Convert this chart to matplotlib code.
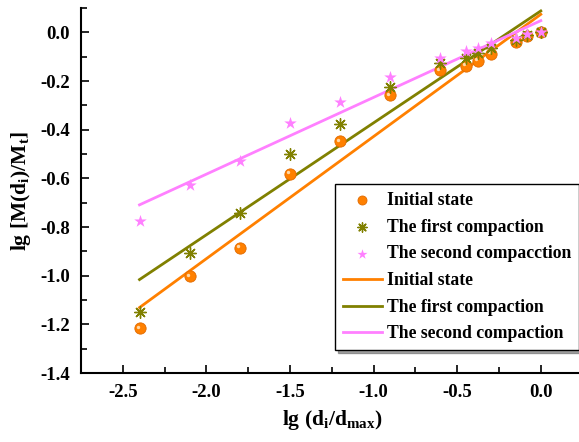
import matplotlib
matplotlib.use("Agg")
import matplotlib.pyplot as plt
import numpy as np

plt.rcParams["font.family"] = ["Liberation Serif", "DejaVu Serif"]
plt.rcParams["font.weight"] = "bold"
plt.rcParams["mathtext.fontset"] = "custom"
plt.rcParams["mathtext.rm"] = "Liberation Serif:bold"
plt.rcParams["mathtext.bf"] = "Liberation Serif:bold"
plt.rcParams["mathtext.default"] = "rm"

# lg(di/dmax) for each sieve size
x = [-2.4, -2.1, -1.8, -1.5, -1.2, -0.9, -0.6, -0.45, -0.375, -0.3, -0.15, -0.08, 0.0]

# lg[M(di)/Mt] for each state
initial = [-1.216, -1.002, -0.886, -0.582, -0.447, -0.259, -0.156, -0.137,
           -0.117, -0.088, -0.040, -0.015, 0.0]
first = [-1.151, -0.907, -0.741, -0.498, -0.375, -0.224, -0.124, -0.105,
         -0.085, -0.065, -0.030, -0.012, 0.0]
second = [-0.775, -0.629, -0.528, -0.372, -0.285, -0.185, -0.104, -0.078,
          -0.063, -0.042, -0.022, -0.008, 0.0]

# linear fits, end points
fit_x = [-2.4, 0.0]
fit_initial = [-1.131, 0.074]
fit_first = [-1.016, 0.088]
fit_second = [-0.709, 0.048]

x_ticks = [-2.5, -2.0, -1.5, -1.0, -0.5, 0.0]
y_ticks = [-1.4, -1.2, -1.0, -0.8, -0.6, -0.4, -0.2, 0.0]

c_orange = "#FF8000"
c_olive = "#808000"
c_pink = "#FF80FF"

fig = plt.figure(figsize=(5.79, 4.42), dpi=100)
ax = fig.add_axes([81 / 579, 1 - 373 / 442, 501.6 / 579, 365 / 442])

l1, = ax.plot(fit_x, fit_initial, color=c_orange, lw=2, label="Initial state")
l2, = ax.plot(fit_x, fit_first, color=c_olive, lw=2, label="The first compaction")
l3, = ax.plot(fit_x, fit_second, color=c_pink, lw=2, label="The second compaction")

s1 = ax.scatter(x, initial, s=66, color=c_orange, edgecolors="#E06A00",
                linewidths=0.6, zorder=3, label="Initial state")
# small highlight on each sphere
ax.scatter(np.array(x) - 0.012, np.array(initial) + 0.006, s=6, color="#FFD9A8",
           linewidths=0, zorder=4)
s2 = ax.scatter(x, first, s=70, marker=(8, 2, 0), color=c_olive, linewidths=1.0,
                zorder=4, label="The first compaction")
s3 = ax.scatter(x, second, s=90, marker="*", color=c_pink, linewidths=0,
                zorder=5, label="The second compacction")

ax.set_xlim(-2.75, 0.25)
ax.set_ylim(-1.4, 0.1)
ax.set_xticks(x_ticks)
ax.set_xticklabels([f"{v:.1f}" for v in x_ticks])
ax.set_xticks(np.arange(-2.75, 0.26, 0.25), minor=True)
ax.set_yticks(y_ticks)
ax.set_yticklabels([f"{v:.1f}" for v in y_ticks])
ax.set_yticks(np.arange(-1.4, 0.11, 0.1), minor=True)
ax.tick_params(which="both", direction="in", width=1.2, labelsize=13.5)
ax.tick_params(which="major", length=6, pad=8)
ax.tick_params(which="minor", length=4)
for lab in ax.get_xticklabels() + ax.get_yticklabels():
    lab.set_fontweight("bold")

for side in ["top", "right"]:
    ax.spines[side].set_visible(False)
for side in ["left", "bottom"]:
    ax.spines[side].set_linewidth(1.5)

ax.set_xlabel(r"lg (d$_\mathrm{i}$/d$_\mathrm{max}$)", fontsize=15.5,
              fontweight="bold", labelpad=5)
ax.set_ylabel(r"lg [M(d$_\mathrm{i}$)/M$_\mathrm{t}$]", fontsize=15.5,
              fontweight="bold", labelpad=5)

leg = ax.legend(handles=[s1, s2, s3, l1, l2, l3], loc="upper left",
                bbox_to_anchor=(335 / 579, 1 - 184 / 442),
                bbox_transform=fig.transFigure, borderaxespad=0,
                prop={"weight": "bold", "size": 12.7}, frameon=True,
                fancybox=False, shadow=True, edgecolor="black",
                handlelength=2.2, handletextpad=0.3, labelspacing=0.55,
                borderpad=0.45, markerscale=0.8)
leg.get_frame().set_linewidth(1.0)

fig.savefig("out.png", dpi=100)
